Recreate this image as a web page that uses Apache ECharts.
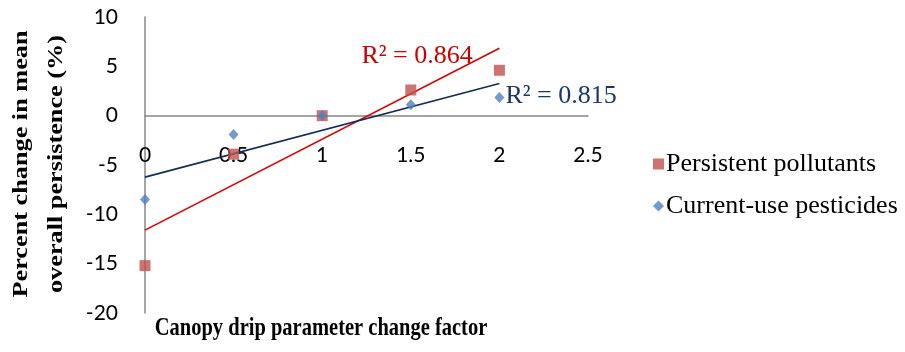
<!DOCTYPE html>
<html>
<head>
<meta charset="utf-8">
<script src="https://cdn.jsdelivr.net/npm/echarts@6/dist/echarts.min.js"></script>
<style>
html,body{margin:0;padding:0;background:#fff;}
#chart{width:905px;height:352px;}
</style>
</head>
<body>
<div id="chart"></div>
<script>
// Canopy drip change factors and the resulting change in overall persistence (%)
const factors = [0, 0.5, 1, 1.5, 2];
const persistentPollutants = [-15.2, -3.9, 0, 2.6, 4.6];
const currentUsePesticides = [-8.5, -1.9, 0, 1.1, 1.85];
const rSquaredLabels = ['R² = 0.864', 'R² = 0.815'];
const seriesNames = ['Persistent pollutants', 'Current-use pesticides'];
const xTitle = 'Canopy drip parameter change factor';
const yTitle = 'Percent change in mean\noverall persistence (%)';
const xTicks = [0, 0.5, 1, 1.5, 2, 2.5];
const yTicks = [-20, -15, -10, -5, 0, 5, 10];

// least-squares line through the points, evaluated at the first and last factor
function linearFit(xs, ys) {
  const n = xs.length;
  const mx = xs.reduce((a, b) => a + b, 0) / n;
  const my = ys.reduce((a, b) => a + b, 0) / n;
  let sxy = 0, sxx = 0;
  for (let i = 0; i < n; i++) { sxy += (xs[i] - mx) * (ys[i] - my); sxx += (xs[i] - mx) ** 2; }
  const slope = sxy / sxx, icpt = my - slope * mx;
  const x0 = xs[0], x1 = xs[n - 1];
  return [[x0, icpt + slope * x0], [x1, icpt + slope * x1]];
}

const pairs = (xs, ys) => xs.map((x, i) => [x, ys[i]]);
const redFit = linearFit(factors, persistentPollutants);
const blueFit = linearFit(factors, currentUsePesticides);

const serif = '"Liberation Serif", "DejaVu Serif", serif';
const sans = 'Lato, "Open Sans", sans-serif';

const chart = echarts.init(document.getElementById('chart'), null, { renderer: 'canvas' });
chart.setOption({
  animation: false,
  grid: { left: 145, right: 317, top: 17, bottom: 39, containLabel: false, outerBoundsMode: 'none' },
  xAxis: {
    type: 'value', min: 0, max: 2.5, interval: 0.5,
    axisLine: { onZero: true, lineStyle: { color: '#878787', width: 1.5 } },
    axisTick: { show: false },
    splitLine: { show: false },
    axisLabel: { margin: -168, fontFamily: sans, fontSize: 21, color: '#000',
      formatter: v => String(v) }
  },
  yAxis: {
    type: 'value', min: -20, max: 10, interval: 5,
    axisLine: { show: true, lineStyle: { color: '#878787', width: 1.5 } },
    axisTick: { show: false },
    splitLine: { show: false },
    axisLabel: { margin: 27, fontFamily: sans, fontSize: 21, color: '#000' }
  },
  // axis titles, both set in a slightly tall, narrow bold serif
  graphic: [
    {
      type: 'text', x: 321, y: 329, scaleY: 1.22,
      style: { text: xTitle, font: 'bold 20.5px ' + serif, fill: '#000',
        align: 'center', verticalAlign: 'middle' }
    },
    {
      type: 'text', x: 39, y: 164, rotation: Math.PI / 2, scaleX: 1.25,
      style: { text: yTitle, font: 'bold 21px ' + serif, fill: '#000', lineHeight: 35,
        align: 'center', verticalAlign: 'middle' }
    }
  ],
  legend: {
    orient: 'vertical', left: 648, top: 146, itemGap: 16,
    itemWidth: 11, itemHeight: 11,
    data: [
      { name: seriesNames[0], icon: 'rect' },
      { name: seriesNames[1], icon: 'diamond' }
    ],
    textStyle: { fontFamily: serif, fontSize: 26, color: '#000', padding: [0, 0, 0, -3] }
  },
  series: [
    {
      name: 'fit-red', type: 'line', data: redFit, symbol: 'none', silent: true,
      lineStyle: { color: '#dc0000', width: 1.6 }, z: 2,
      endLabel: { show: true, formatter: rSquaredLabels[0], fontFamily: serif, fontSize: 26,
        color: '#cc0000', offset: [-146, 8] }
    },
    {
      name: 'fit-blue', type: 'line', data: blueFit, symbol: 'none', silent: true,
      lineStyle: { color: '#142d52', width: 1.6 }, z: 2,
      endLabel: { show: true, formatter: rSquaredLabels[1], fontFamily: serif, fontSize: 26,
        color: '#17376a', offset: [-2, 13] }
    },
    {
      name: seriesNames[0], type: 'scatter', data: pairs(factors, persistentPollutants),
      symbol: 'rect', symbolSize: 11, itemStyle: { color: '#c0504d' }, z: 3
    },
    {
      name: seriesNames[1], type: 'scatter', data: pairs(factors, currentUsePesticides),
      symbol: 'diamond', symbolSize: [10, 11], itemStyle: { color: '#4f81bd' }, z: 4
    }
  ]
});
</script>
</body>
</html>
